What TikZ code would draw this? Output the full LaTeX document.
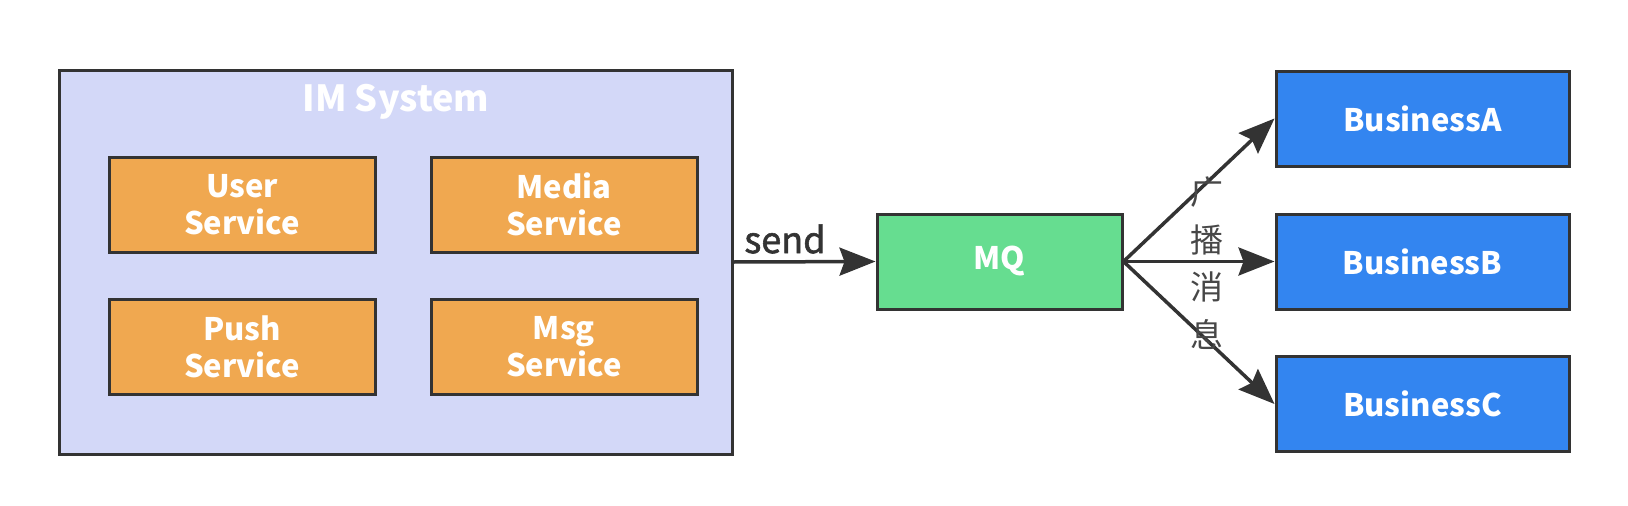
\documentclass[tikz,border=0pt]{standalone}
\usepackage{fontspec}
\setmainfont{Noto Sans CJK SC}
\newfontfamily\cjk{Noto Sans CJK SC}
\newfontfamily\semib[FakeBold=1.6]{Noto Sans CJK SC}
\usetikzlibrary{arrows.meta}
\definecolor{imbg}{HTML}{D3D8F8}
\definecolor{svc}{HTML}{F0A850}
\definecolor{mqc}{HTML}{66DD90}
\definecolor{biz}{HTML}{3385F0}
\definecolor{edge}{HTML}{333333}
\tikzset{
  box/.style={draw=edge, line width=3pt, inner sep=0pt, text=white, font=\fontsize{31}{37}\selectfont\bfseries, align=center},
  svcbox/.style={box, fill=svc, minimum width=266pt, minimum height=95pt},
  bizbox/.style={box, fill=biz, minimum width=293pt, minimum height=95pt},
  conn/.style={draw=edge, line width=3.5pt, -{Stealth[length=36pt,width=28pt,inset=5pt]}}
}
\begin{document}
\begin{tikzpicture}[x=1pt,y=-1pt]
\useasboundingbox (0,0) rectangle (1628,506);
\node[draw=edge, line width=3pt, fill=imbg, minimum width=673pt, minimum height=384pt, inner sep=0pt] (im) at (395.5,262) {};
\node[text=white, font=\fontsize{36}{40}\selectfont\bfseries] (imt) at (396,102) {IM System};
\node[svcbox] (user) at (242,204.5) {User\\Service};
\node[svcbox] (media) at (564,204.5) {Media\\Service};
\node[svcbox] (push) at (242,346.5) {Push\\Service};
\node[svcbox] (msg) at (564,346.5) {Msg\\Service};
\node[box, fill=mqc, minimum width=245pt, minimum height=95pt] (mq) at (999.5,261.5) {MQ};
\node[bizbox] (ba) at (1422.5,118.5) {BusinessA};
\node[bizbox] (bb) at (1422.5,261.5) {BusinessB};
\node[bizbox] (bc) at (1422.5,404) {BusinessC};
\draw[conn] (im.east) -- (mq.west);
\node[text=edge, font=\semib\fontsize{36}{40}\selectfont] (send) at (785,239) {send};
\draw[conn] (mq.east) -- (ba.west);
\draw[conn] (mq.east) -- (bb.west);
\draw[conn] (mq.east) -- (bc.west);
\node[text=edge!90!white, font=\cjk\fontsize{33}{47.7}\selectfont, align=center, inner sep=0pt] (lbl) at (1207,263) {广\\播\\消\\息};
\end{tikzpicture}
\end{document}
